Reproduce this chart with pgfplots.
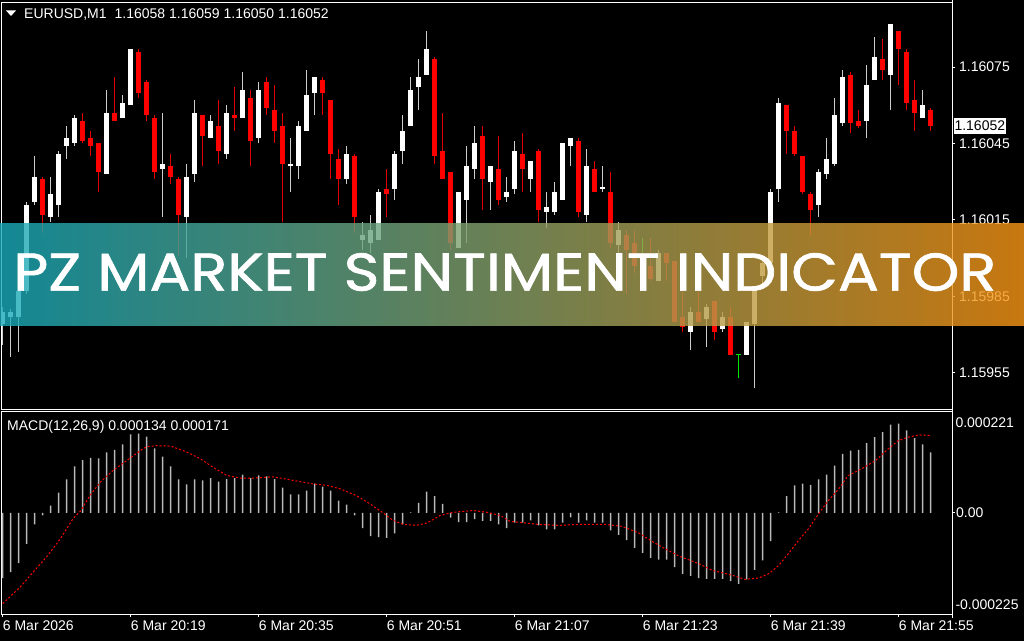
\documentclass[border=0pt]{standalone}
\usepackage{pgfplots}
\pgfplotsset{compat=1.18}
\usepackage{pgfplotstable}
\usepackage{graphicx}
\usepackage{fontspec}
\setmainfont{Liberation Sans}
\newfontfamily\bannerfont{Poppins}[FakeBold=1.2]
\definecolor{wickup}{RGB}{205,205,205}
\definecolor{wickdn}{RGB}{225,0,0}
\definecolor{candred}{RGB}{255,0,0}
\definecolor{dojigreen}{RGB}{0,230,0}
\definecolor{macdgray}{RGB}{185,185,185}
\definecolor{bannerL}{RGB}{24,170,186}
\definecolor{bannerR}{RGB}{250,150,20}
\newcommand\mtfont{\fontsize{14}{16}\selectfont}

% prices in points above 1.15900 (1 = 0.00001)
\pgfplotstableread{
i o h l c
0 74 81 66 79
1 77 80 61 79
2 77 88 63 87
3 87 122 86 121
4 122 140 121 132
6 116 132 114 125
7 121 142 116 141
8 144 152 139 147
9 145 156 144 155
13 133 166 133 157
15 155 164 155 161
16 160 182 160 182
20 135 157 116 137
23 116 137 100 132
24 133 162 130 157
26 147 156 147 154
28 141 160 139 157
30 155 173 155 166
32 147 169 145 166
36 136 147 126 137
37 136 154 131 152
38 150 174 150 164
39 165 171 156 171
43 131 144 129 141
45 107 114 103 109
46 106 117 102 111
47 107 127 107 126
49 127 142 123 141
50 142 156 137 150
51 152 171 152 166
52 167 178 158 171
53 172 189 172 182
57 104 126 104 126
58 123 144 106 136
59 135 152 131 145
61 130 136 119 136
63 124 132 122 126
64 127 146 125 142
66 131 138 126 138
68 118 126 112 120
69 118 130 117 126
70 123 145 123 145
71 144 147 136 147
73 117 143 114 136
75 127 136 126 128
77 105 114 101 111
82 91 103 91 102
86 71 81 64 79
88 76 82 65 81
90 72 79 71 77
93 62 75 62 75
94 74 89 49 89
95 93 100 90 98
96 98 127 97 126
97 127 163 122 161
102 121 135 116 134
103 133 147 131 139
104 137 163 136 156
105 153 174 152 171
108 154 176 147 168
109 170 187 170 179
111 172 192 158 192
115 155 166 155 160
}\upT

\pgfplotstableread{
i o h l c
5 131 132 110 117
10 154 157 145 146
11 147 150 140 144
12 145 145 126 134
14 157 171 154 154
17 181 182 163 165
18 169 170 154 156
19 155 156 131 134
21 136 141 129 132
22 131 132 101 117
25 156 156 136 148
27 152 162 137 142
29 156 167 150 155
31 163 166 136 146
33 169 171 156 159
34 158 168 145 150
35 152 157 114 137
40 170 171 156 165
41 162 162 131 141
42 139 143 121 131
44 140 141 110 116
48 127 135 116 125
54 178 179 137 140
55 142 157 131 131
56 134 134 103 106
60 148 152 119 131
62 135 148 121 123
65 141 149 126 135
67 142 143 114 119
72 146 147 116 118
74 135 138 126 126
76 126 134 104 106
78 109 111 86 103
79 106 111 94 97
81 97 108 91 92
83 102 102 91 98
84 99 99 75 75
85 77 92 71 73
87 79 91 75 75
89 83 83 68 71
91 77 81 62 62
98 160 160 141 150
99 150 152 140 141
100 140 140 125 126
101 125 126 109 119
106 172 173 149 153
107 154 158 151 152
110 178 186 170 174
112 189 189 168 182
113 181 182 158 161
114 162 170 150 157
116 158 159 150 152
}\dnT

\pgfplotstableread{
i o h l c
80 96 108 91 96
92 62 62 53 62
}\dojiT

% MACD main line in units of 0.000001
\pgfplotstableread{
i m
0 -145
1 -132
2 -112
3 -69
4 -26
5 -6
6 16
7 45
8 74
9 103
10 117
11 122
12 121
13 134
14 140
15 152
16 174
17 176
18 169
19 143
20 125
21 103
22 74
23 63
24 74
25 72
26 77
27 69
28 75
29 77
30 85
31 77
32 83
33 81
34 75
35 56
36 41
37 41
38 49
39 65
40 58
41 49
42 27
43 18
44 -6
45 -34
46 -52
47 -54
48 -56
49 -46
50 -26
51 1
52 22
53 47
54 37
55 20
56 -11
57 -21
58 -21
59 -14
60 -18
61 -18
62 -26
63 -34
64 -22
65 -22
66 -17
67 -28
68 -37
69 -37
70 -22
71 -10
72 -22
73 -17
74 -22
75 -22
76 -39
77 -49
78 -61
79 -78
80 -89
81 -100
82 -104
83 -104
84 -121
85 -136
86 -140
87 -145
88 -147
89 -147
90 -147
91 -152
92 -158
93 -148
94 -127
95 -106
96 -63
97 1
98 37
99 61
100 65
101 62
102 74
103 85
104 105
105 131
106 138
107 140
108 155
109 168
110 179
111 196
112 198
113 183
114 166
115 152
116 134
}\macdT

\begin{document}
\begin{tikzpicture}[x=1pt,y=1pt]
\fill[black] (0,0) rectangle (1024,640);

% ---------------- price window ----------------
\begin{axis}[
  at={(2pt,231pt)}, anchor=south west, scale only axis,
  width=950pt, height=407pt,
  xmin=-0.0875, xmax=118.6625, ymin=40.58, ymax=200.35,
  axis line style={white, line width=1pt},
  xtick=\empty,
  ytick={55,85,115,145,175},
  yticklabels={1.15955,1.15985,1.16015,1.16045,1.16075},
  ytick pos=right, yticklabel pos=right,
  tick align=outside, major tick length=3pt,
  tick style={white, line width=1pt},
  yticklabel style={anchor=west, inner sep=0pt, font=\mtfont, text=white},
  yticklabel shift=4pt,
]
% wicks
\addplot[draw=none, mark=none, forget plot,
  error bars/.cd, y dir=plus, y explicit, error mark=none,
  error bar style={line width=1pt, draw=wickup}]
  table[x=i, y=l, y error plus expr=\thisrow{h}-\thisrow{l}] {\upT};
\addplot[draw=none, mark=none, forget plot,
  error bars/.cd, y dir=plus, y explicit, error mark=none,
  error bar style={line width=1pt, draw=wickdn}]
  table[x=i, y=l, y error plus expr=\thisrow{h}-\thisrow{l}] {\dnT};
\addplot[draw=none, mark=none, forget plot,
  error bars/.cd, y dir=plus, y explicit, error mark=none,
  error bar style={line width=1pt, draw=dojigreen}]
  table[x=i, y=l, y error plus expr=\thisrow{h}-\thisrow{l}] {\dojiT};
% bodies
\addplot[draw=none, mark=none, forget plot,
  error bars/.cd, y dir=plus, y explicit, error mark=none,
  error bar style={line width=5pt, draw=white}]
  table[x=i, y=o, y error plus expr=\thisrow{c}-\thisrow{o}] {\upT};
\addplot[draw=none, mark=none, forget plot,
  error bars/.cd, y dir=plus, y explicit, error mark=none,
  error bar style={line width=5pt, draw=candred}]
  table[x=i, y=c, y error plus expr=\thisrow{o}-\thisrow{c}] {\dnT};
\addplot[draw=none, mark=none, forget plot,
  error bars/.cd, x dir=both, x explicit, error mark=none,
  error bar style={line width=1pt, draw=dojigreen}]
  table[x=i, y=o, x error expr=0.3] {\dojiT};
\coordinate (pricebox) at (axis cs:118.6625,151.8);
\end{axis}

% ---------------- MACD window ----------------
\begin{axis}[
  at={(2pt,26.5pt)}, anchor=south west, scale only axis,
  width=950pt, height=202.5pt,
  xmin=-0.0875, xmax=118.6625, ymin=-225, ymax=225,
  axis line style={white, line width=1pt},
  xtick={0,16,32,48,64,80,96,112},
  xticklabels={6 Mar 2026,6 Mar 20:19,6 Mar 20:35,6 Mar 20:51,6 Mar 21:07,6 Mar 21:23,6 Mar 21:39,6 Mar 21:55},
  xtick pos=left,
  ytick={0}, yticklabels={0.00},
  ytick pos=right, yticklabel pos=right,
  tick align=outside, major tick length=3pt,
  tick style={white, line width=1pt},
  xticklabel style={anchor=north west, inner sep=0pt, font=\mtfont, text=white},
  yticklabel style={anchor=west, inner sep=0pt, font=\mtfont, text=white},
  xticklabel shift=4pt, yticklabel shift=1pt,
]
\addplot[ybar, bar width=1.5pt, fill=macdgray, draw=none] table[x=i, y=m] {\macdT};
\addplot[color=candred, line width=1pt, dash pattern=on 2pt off 2pt] coordinates {
(0,-202) (2.2,-165) (3.8,-132) (5.5,-98) (7.2,-58) (8.8,-13) (9.7,3) (10.9,38)
(12.2,68) (13.8,94) (15.5,116) (17.2,138) (18,147) (19.2,149) (21,148) (23,135)
(24.7,120) (26.3,101) (28,83) (29.7,77) (31.3,77) (33.8,80) (36.3,72) (38.8,64)
(40.5,61) (42.2,53) (44.2,38) (45.9,20) (47.6,-1) (48.8,-17) (50.1,-26) (51.7,-28)
(53,-23) (54.7,-6) (56.3,1) (58.8,5) (60.5,1) (62.2,-6) (63.4,-19) (67,-26)
(69.5,-28) (72,-26) (75.3,-26) (77.4,-30) (79.5,-45) (81.2,-64) (82.8,-80) (84.5,-96)
(87,-113) (88.7,-128) (91.2,-139) (92.8,-148) (94.5,-145) (95.8,-135) (97,-117) (98.2,-91)
(99.5,-61) (100.7,-36) (102,-2) (103.2,27) (104.5,53) (105.7,83) (107.4,98) (109.1,116)
(110.7,142) (112,161) (113.2,168) (114.5,173) (115.7,172) (116,171)};
\coordinate (macdtop) at (axis cs:118.6625,201);
\coordinate (macdbot) at (axis cs:118.6625,-204);
\end{axis}

% right border across both windows
\draw[white, line width=1pt] (952,23) -- (952,640);

% labels
\node[anchor=west, fill=white, text=black, inner xsep=1pt, inner ysep=3.3pt, font=\mtfont] at ([xshift=1.3pt]pricebox) {1.16052};
\node[anchor=west, inner sep=0pt, text=white, font=\mtfont] at ([xshift=3.3pt]macdtop) {0.000221};
\node[anchor=west, inner sep=0pt, text=white, font=\mtfont] at ([xshift=3.3pt]macdbot) {-0.000225};
\fill[white] (6,630) -- (16,630) -- (11,624.5) -- cycle;
\node[anchor=base west, inner sep=0pt, text=white, font=\mtfont] at (24,621.5) {EURUSD,M1\hspace{8pt}1.16058 1.16059 1.16050 1.16052};
\node[anchor=base west, inner sep=0pt, text=white, font=\mtfont] at (7,210.5) {MACD(12,26,9) 0.000134 0.000171};

% banner
\shade[left color=bannerL, right color=bannerR, opacity=0.8] (0,315) rectangle (1024,416.7);
\node[anchor=south west, inner sep=0pt, text=white] at (13,349.3) {\resizebox{983pt}{37.5pt}{\bannerfont PZ MARKET SENTIMENT INDICATOR}};
\end{tikzpicture}
\end{document}
